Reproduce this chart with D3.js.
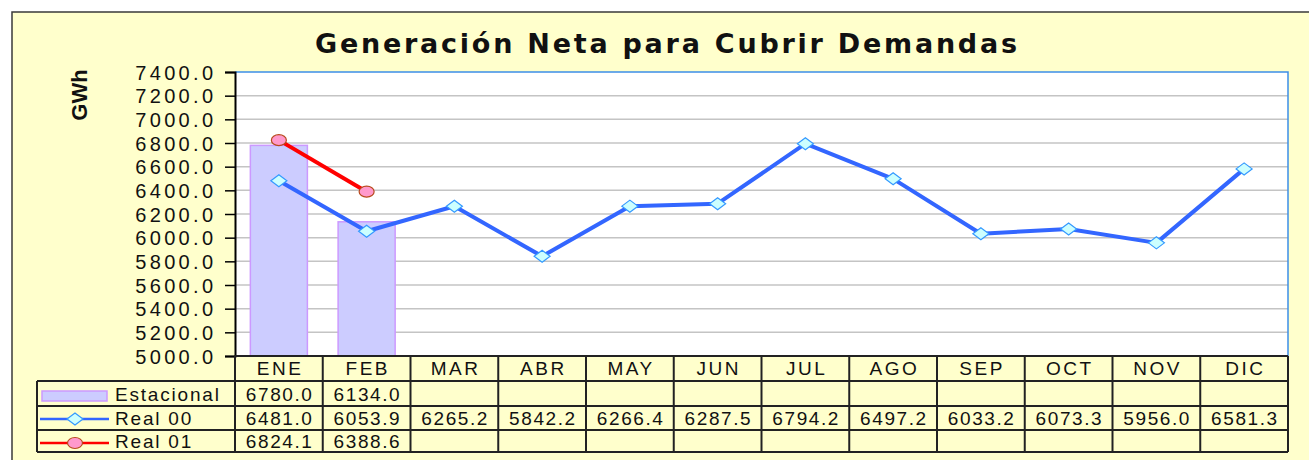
<!DOCTYPE html>
<html>
<head>
<meta charset="utf-8">
<script src="https://cdn.jsdelivr.net/npm/d3@7"></script>
<style>
  html, body { margin: 0; padding: 0; background: #ffffff; }
  svg { display: block; }
  text { font-family: "Liberation Sans", Arial, sans-serif; fill: #111; }
</style>
</head>
<body>
<svg id="chart" width="1309" height="460"></svg>
<script>
const title = "Generación Neta para Cubrir Demandas";
const yLabel = "GWh";
const months = ["ENE","FEB","MAR","ABR","MAY","JUN","JUL","AGO","SEP","OCT","NOV","DIC"];
const estacional = [6780.0, 6134.0, null, null, null, null, null, null, null, null, null, null];
const real00 = [6481.0, 6053.9, 6265.2, 5842.2, 6266.4, 6287.5, 6794.2, 6497.2, 6033.2, 6073.3, 5956.0, 6581.3];
const real01 = [6824.1, 6388.6, null, null, null, null, null, null, null, null, null, null];
const yTicks = [5000, 5200, 5400, 5600, 5800, 6000, 6200, 6400, 6600, 6800, 7000, 7200, 7400];
const seriesNames = ["Estacional", "Real 00", "Real 01"];

const svg = d3.select("#chart");
const W = 1309, H = 460;

const plot = { left: 235, right: 1288, top: 72, bottom: 356 };
const tableX0 = 37;
const rowY = [356, 381, 406, 430, 452];

// background frame
svg.append("rect").attr("x", 12).attr("y", 12).attr("width", W + 20).attr("height", H + 20)
  .attr("fill", "#FFFFCC").attr("stroke", "#3a3a3a").attr("stroke-width", 1.5);

const x = d3.scaleBand().domain(months).range([plot.left, plot.right]).padding(0);
const y = d3.scaleLinear().domain([5000, 7400]).range([plot.bottom, plot.top]);

// plot area
svg.append("rect").attr("x", plot.left).attr("y", plot.top)
  .attr("width", plot.right - plot.left).attr("height", plot.bottom - plot.top)
  .attr("fill", "#ffffff");

// gridlines
svg.append("g").selectAll("line").data(yTicks.filter(t => t > 5000 && t < 7400)).join("line")
  .attr("x1", plot.left).attr("x2", plot.right)
  .attr("y1", d => y(d)).attr("y2", d => y(d))
  .attr("stroke", "#C4C4C4").attr("stroke-width", 1.5);

// plot border top/right blue
svg.append("path")
  .attr("d", `M${plot.left},${plot.top}H${plot.right}V${plot.bottom}`)
  .attr("fill", "none").attr("stroke", "#3C8EE8").attr("stroke-width", 1.5);

// y axis
const yAxis = d3.axisLeft(y).tickValues(yTicks).tickFormat(d3.format(".1f")).tickSize(10).tickPadding(12);
const gy = svg.append("g").attr("transform", `translate(${plot.left},0)`).call(yAxis);
gy.select(".domain").attr("stroke", "#000").attr("stroke-width", 2);
gy.selectAll(".tick line").attr("stroke", "#000").attr("stroke-width", 1.5);
gy.selectAll(".tick text")
  .style("font-family", '"Liberation Sans", Arial, sans-serif')
  .style("font-size", "20px").style("letter-spacing", "3.3px")
  .attr("fill", "#111").attr("dx", "3.3px").attr("dy", "0.36em");

// bars
const barW = x.bandwidth() * 0.65;
svg.append("g").selectAll("rect").data(months.map((m, i) => ({ m, v: estacional[i] })).filter(d => d.v != null))
  .join("rect")
  .attr("x", d => x(d.m) + (x.bandwidth() - barW) / 2)
  .attr("y", d => y(d.v))
  .attr("width", barW)
  .attr("height", d => y(5000) - y(d.v))
  .attr("fill", "#CCCCFF").attr("stroke", "#CC99FF").attr("stroke-width", 1.5);

const cx = m => x(m) + x.bandwidth() / 2;
const line = d3.line().defined(d => d.v != null).x(d => cx(d.m)).y(d => y(d.v));

const r00 = months.map((m, i) => ({ m, v: real00[i] }));
const r01 = months.map((m, i) => ({ m, v: real01[i] }));

svg.append("path").datum(r00).attr("d", line).attr("fill", "none")
  .attr("stroke", "#3366FF").attr("stroke-width", 4).attr("stroke-linejoin", "round");
svg.append("path").datum(r01).attr("d", line).attr("fill", "none")
  .attr("stroke", "#FF0000").attr("stroke-width", 4).attr("stroke-linejoin", "round");

const diamond = (cxv, cyv) => `M${cxv - 8},${cyv}L${cxv},${cyv - 6}L${cxv + 8},${cyv}L${cxv},${cyv + 6}Z`;

svg.append("g").selectAll("path").data(r00.filter(d => d.v != null)).join("path")
  .attr("d", d => diamond(cx(d.m), y(d.v)))
  .attr("fill", "#CCFFFF").attr("stroke", "#3399FF").attr("stroke-width", 1.2);

svg.append("g").selectAll("ellipse").data(r01.filter(d => d.v != null)).join("ellipse")
  .attr("cx", d => cx(d.m)).attr("cy", d => y(d.v)).attr("rx", 7.5).attr("ry", 5.5)
  .attr("fill", "#FF99CC").attr("stroke", "#B84A1C").attr("stroke-width", 1.2);

// data table
const tbl = svg.append("g");
const stroke = "#222";
tbl.append("line").attr("x1", plot.left).attr("x2", plot.right).attr("y1", rowY[0]).attr("y2", rowY[0])
  .attr("stroke", stroke).attr("stroke-width", 2);
rowY.slice(1).forEach(yy => {
  tbl.append("line").attr("x1", tableX0).attr("x2", plot.right).attr("y1", yy).attr("y2", yy)
    .attr("stroke", stroke).attr("stroke-width", 2);
});
tbl.append("line").attr("x1", tableX0).attr("x2", tableX0).attr("y1", rowY[1]).attr("y2", rowY[4])
  .attr("stroke", stroke).attr("stroke-width", 2);
months.forEach(m => {
  tbl.append("line").attr("x1", x(m)).attr("x2", x(m)).attr("y1", rowY[0]).attr("y2", rowY[4])
    .attr("stroke", stroke).attr("stroke-width", 2);
});
tbl.append("line").attr("x1", plot.right).attr("x2", plot.right).attr("y1", rowY[0]).attr("y2", rowY[4])
  .attr("stroke", stroke).attr("stroke-width", 2);

// header
tbl.selectAll("text.hdr").data(months).join("text").attr("class", "hdr")
  .attr("x", d => cx(d) + 1.2).attr("y", 375)
  .attr("text-anchor", "middle")
  .style("font-size", "19px").style("letter-spacing", "2.5px")
  .text(d => d);

// values
const rows = [estacional, real00, real01];
const fmt = d3.format(".1f");
rows.forEach((arr, ri) => {
  const base = (rowY[ri + 1] + rowY[ri + 2]) / 2 + 7;
  tbl.append("g").selectAll("text").data(months.map((m, i) => ({ m, v: arr[i] })).filter(d => d.v != null))
    .join("text")
    .attr("x", d => cx(d.m) + 0.8).attr("y", base)
    .attr("text-anchor", "middle")
    .style("font-size", "19px").style("letter-spacing", "1.6px")
    .text(d => fmt(d.v));
});

// legend keys
const ly = rowY.slice(1, 4).map((v, i) => (v + rowY[i + 2]) / 2);
tbl.append("rect").attr("x", 42).attr("y", 391).attr("width", 65).attr("height", 10)
  .attr("fill", "#CCCCFF").attr("stroke", "#CC99FF").attr("stroke-width", 1.5);
tbl.append("line").attr("x1", 40).attr("x2", 109).attr("y1", 419).attr("y2", 419)
  .attr("stroke", "#3366FF").attr("stroke-width", 2.5);
tbl.append("path").attr("d", diamond(75, 419)).attr("fill", "#CCFFFF").attr("stroke", "#3399FF").attr("stroke-width", 1.2);
tbl.append("line").attr("x1", 40).attr("x2", 109).attr("y1", 443).attr("y2", 443)
  .attr("stroke", "#FF0000").attr("stroke-width", 2.5);
tbl.append("ellipse").attr("cx", 75).attr("cy", 443).attr("rx", 7.5).attr("ry", 5.5)
  .attr("fill", "#FF99CC").attr("stroke", "#B84A1C").attr("stroke-width", 1.2);
tbl.selectAll("text.leg").data(seriesNames).join("text").attr("class", "leg")
  .attr("x", 115).attr("y", (d, i) => ly[i] + 7)
  .style("font-size", "19px").style("letter-spacing", "1.8px")
  .text(d => d);

// title
svg.append("text").attr("x", 315).attr("y", 53)
  .attr("textLength", 702).attr("lengthAdjust", "spacing")
  .style("font-family", '"DejaVu Sans", Verdana, sans-serif')
  .style("font-size", "27px").style("font-weight", "bold")
  .attr("fill", "#000")
  .text(title);

// y label
svg.append("text").attr("transform", "translate(87,95) rotate(-90)")
  .attr("text-anchor", "middle")
  .style("font-size", "22px").style("font-weight", "bold")
  .attr("fill", "#000")
  .text(yLabel);
</script>
</body>
</html>
